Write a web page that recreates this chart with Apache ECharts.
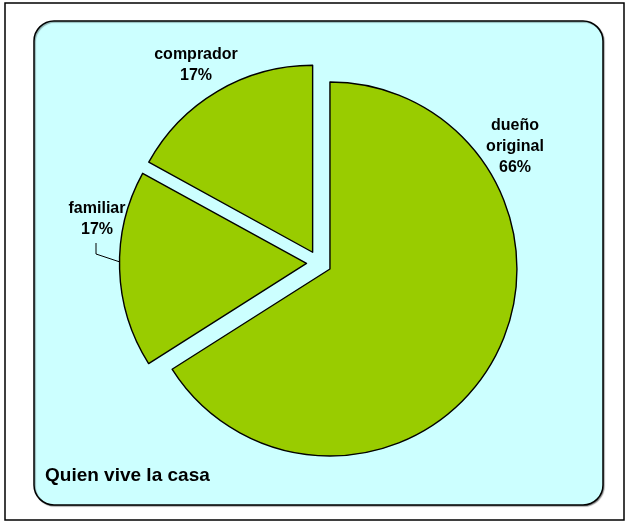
<!DOCTYPE html>
<html>
<head>
<meta charset="utf-8">
<script src="https://cdn.jsdelivr.net/npm/echarts@6/dist/echarts.min.js"></script>
<style>
html,body{margin:0;padding:0;background:#fff;}
#c{width:628px;height:523px;}
</style>
</head>
<body>
<div id="c"></div>
<script>
var categories = ["dueño original", "familiar", "comprador"];
var values = [66, 17, 17];
var titleText = "Quien vive la casa";

var labelPos = [
  {x: 515, y: 147},
  {x: 97, y: 219},
  {x: 196, y: 65}
];

var FONT = 'bold 16px "Liberation Sans", Arial, sans-serif';

var chart = echarts.init(document.getElementById('c'));
var data = categories.map(function (n, i) {
  return {name: n, value: values[i], selected: true};
});
var total = values.reduce(function (a, b) { return a + b; }, 0);

var graphics = [
  {type: 'rect', z: 0, shape: {x: 5, y: 3, width: 619, height: 517},
   style: {fill: '#fff', stroke: '#000', lineWidth: 1.5}},
  {type: 'rect', z: 1, shape: {x: 34, y: 21, width: 569, height: 484, r: 20},
   style: {fill: '#ccffff', stroke: '#000', lineWidth: 1.5,
           shadowColor: 'rgba(0,0,0,0.35)', shadowOffsetX: 1, shadowOffsetY: 1, shadowBlur: 1}},
  {type: 'text', z: 10, left: 45, top: 466,
   style: {text: titleText, font: 'bold 19px "Liberation Sans", Arial, sans-serif', fill: '#000'}},
  {type: 'polyline', z: 10, shape: {points: [[96, 243], [96, 254], [120, 262]]},
   style: {stroke: '#000', lineWidth: 1, fill: null}}
];
categories.forEach(function (n, i) {
  graphics.push({
    type: 'text', z: 10, x: labelPos[i].x, y: labelPos[i].y,
    style: {
      text: n.replace(' ', '\n') + '\n' + Math.round(values[i] / total * 100) + '%',
      font: FONT, fill: '#000', align: 'center', verticalAlign: 'middle', lineHeight: 21
    }
  });
});

chart.setOption({
  animation: false,
  graphic: graphics,
  series: [{
    type: 'pie',
    z: 5,
    center: [319, 263],
    radius: [0, 187],
    startAngle: 90,
    clockwise: true,
    selectedMode: 'multiple',
    selectedOffset: 12.5,
    emphasis: {disabled: true},
    itemStyle: {color: '#99cc00', borderColor: '#000', borderWidth: 1.4},
    label: {show: false},
    labelLine: {show: false},
    data: data
  }]
});
</script>
</body>
</html>
